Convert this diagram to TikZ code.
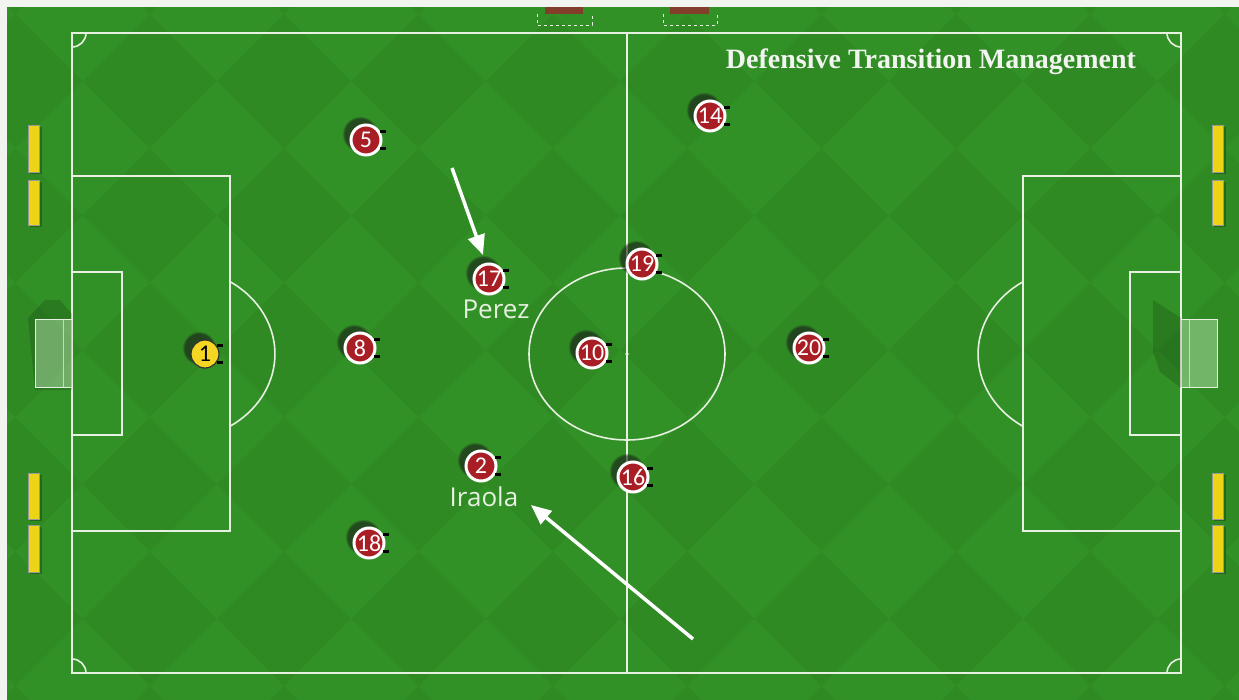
\documentclass[tikz,border=0pt]{standalone}
\usepackage{fontspec}
\setmainfont{Liberation Serif}
\newfontfamily\labelfont{Open Sans}
\newfontfamily\numfont{Carlito}
\usetikzlibrary{arrows.meta,shadows}

\definecolor{grass}{RGB}{50,145,38}
\definecolor{chalk}{RGB}{232,240,225}
\definecolor{shirt}{RGB}{168,30,36}
\definecolor{keeper}{RGB}{245,215,35}
\definecolor{barrier}{RGB}{236,212,22}
\definecolor{crate}{RGB}{130,62,42}
\definecolor{netfill}{RGB}{170,215,160}
\definecolor{paper}{RGB}{242,244,240}

\tikzset{
  line/.style={draw=chalk,line width=1.6pt},
  token/.style={circle,fill=shirt,draw=white,line width=3pt,minimum size=30pt,
    inner sep=0pt,text=white,font=\numfont\fontsize{24}{24}\selectfont,
    circular drop shadow={shadow xshift=-5pt,shadow yshift=5pt,shadow scale=1.2,fill=black!90,opacity=.6}},
  goalie/.style={token,fill=keeper,draw=black!80,line width=1.2pt,text=black,minimum size=28pt},
  tick/.style={fill=black},
  playername/.style={text=chalk,font=\labelfont\fontsize{26}{26}\selectfont},
  run/.style={draw=white,line width=3.5pt,-{Triangle[length=20pt,width=17pt]}},
  barrierbar/.style={fill=barrier,draw=black!40,line width=0.4pt},
  title/.style={text=paper,font=\bfseries\fontsize{28}{28}\selectfont},
}

\begin{document}
\begin{tikzpicture}[x=1pt,y=-1pt]
\useasboundingbox (0,0) rectangle (1239,700);

% turf with a faint diagonal mowing pattern
\fill[grass] (0,0) rectangle (1239,700);
\begin{scope}
  \clip (0,0) rectangle (1239,700);
  \begin{scope}[shift={(620,350)},rotate=45]
    \foreach \i in {-8,...,7}{
      \foreach \j in {-8,...,7}{
        \pgfmathtruncatemacro{\parity}{mod(\i+\j+16,2)}
        \ifnum\parity=0
          \fill[black,opacity=0.045] (\i*95,\j*95) rectangle ++(95,95);
        \fi
      }
    }
  \end{scope}
\end{scope}

% markings
\draw[line] (72,33) rectangle (1181,673);
\draw[line] (627,33) -- (627,673);
\draw[line] (627,354) ellipse [x radius=98,y radius=86];
\fill[chalk] (627,354) circle (1.8);
\draw[line] (72,176) rectangle (230,531);
\draw[line] (72,272) rectangle (122,435);
\draw[line] (1023,176) rectangle (1181,531);
\draw[line] (1130,272) rectangle (1181,435);
\draw[line] (229.9,281.6) arc[start angle=-57.3,end angle=57.3,x radius=98,y radius=86];
\draw[line] (1023.1,426.4) arc[start angle=122.7,end angle=237.3,x radius=98,y radius=86];
\draw[line] (86,33) arc[start angle=0,end angle=90,radius=14];
\draw[line] (1167,33) arc[start angle=180,end angle=90,radius=14];
\draw[line] (86,673) arc[start angle=0,end angle=-90,radius=14];
\draw[line] (1167,673) arc[start angle=180,end angle=270,radius=14];

% goals
\fill[black,opacity=0.15] (28,318) -- (45,300) -- (60,300) -- (72,314) -- (72,390) -- (35,390) -- cycle;
\fill[netfill,opacity=0.55] (35,320) rectangle (72,387);
\draw[chalk,line width=1pt] (72,320) -- (35,320) -- (35,387) -- (72,387);
\draw[chalk,line width=1pt,opacity=0.7] (63,320) -- (63,387);
\fill[black,opacity=0.15] (1153,300) -- (1181,318) -- (1181,388) -- (1160,372) -- (1153,352) -- cycle;
\fill[netfill,opacity=0.55] (1181,320) rectangle (1217,387);
\draw[chalk,line width=1pt] (1181,320) -- (1217,320) -- (1217,387) -- (1181,387);
\draw[chalk,line width=1pt,opacity=0.7] (1189,320) -- (1189,387);

% small goals and their dashed outlines at the top
\fill[crate] (545,6) rectangle (583,14);
\fill[crate] (670,6) rectangle (709,14);
\draw[chalk,dashed,line width=0.9pt] (537,14) -- (537,25) -- (592,25) -- (592,14);
\draw[chalk,dashed,line width=0.9pt] (663,14) -- (663,25) -- (717,25) -- (717,14);

% yellow boundary barriers
\foreach \x in {28,1212}{
  \foreach \y/\h in {125/47,180/45,473/46,525/47}{
    \fill[black,opacity=0.25] (\x+2,\y+2) rectangle ++(12,\h);
    \filldraw[barrierbar] (\x,\y) rectangle ++(11,\h);
  }
}

% paper edges
\fill[paper] (0,0) rectangle (1239,7);
\fill[paper] (0,0) rectangle (7,700);

% players
\node[goalie] (p1) at (205,354) {1};
\node[token] (p5) at (366,140) {5};
\node[token] (p14) at (710,116) {14};
\node[token] (p17) at (489,279) {17};
\node[token] (p19) at (642,264) {19};
\node[token] (p8) at (360,348) {8};
\node[token] (p10) at (592,353) {10};
\node[token] (p20) at (809,348) {20};
\node[token] (p2) at (481,466) {2};
\node[token] (p16) at (633,477) {16};
\node[token] (p18) at (369,543) {18};

\foreach \p in {p1,p5,p14,p17,p19,p8,p10,p20,p2,p16,p18}{
  \fill[tick] ([xshift=-3pt,yshift=7pt]\p.east) rectangle ++(6,-3);
  \fill[tick] ([xshift=-3pt,yshift=-7pt]\p.east) rectangle ++(6,3);
}

% names
\node[playername] (perez) at (496,309) {Perez};
\node[playername] (iraola) at (484,497) {Iraola};

% runs
\coordinate (r1s) at (452,168);
\coordinate (r1e) at (483,255);
\coordinate (r2s) at (693,639);
\coordinate (r2e) at (531,505);
\draw[run] (r1s) -- (r1e);
\draw[run] (r2s) -- (r2e);

% heading
\node[title] (title) at (931,62) {Defensive Transition Management};
\end{tikzpicture}
\end{document}
